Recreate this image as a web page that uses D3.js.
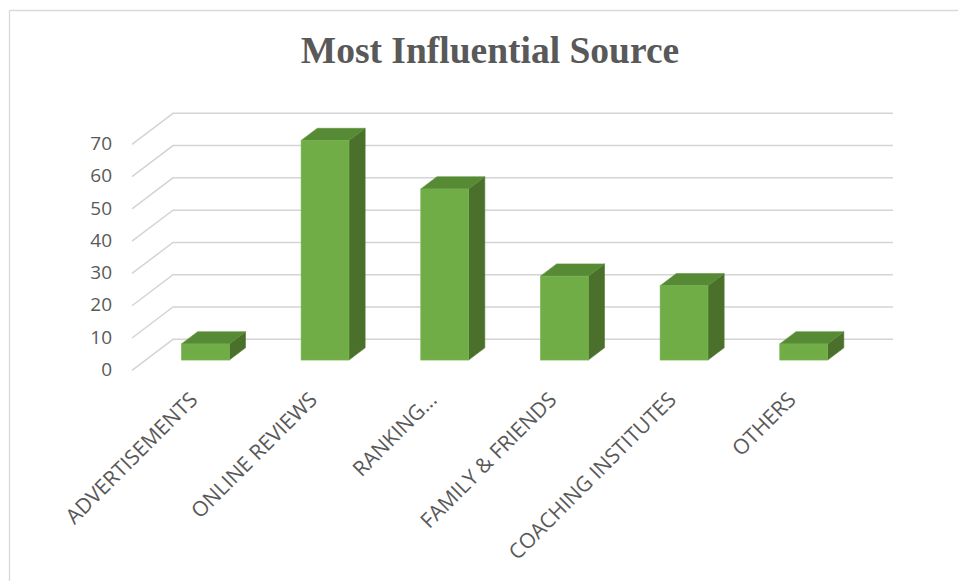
<!DOCTYPE html>
<html>
<head>
<meta charset="utf-8">
<script src="https://cdn.jsdelivr.net/npm/d3@7"></script>
<style>
  html, body { margin: 0; padding: 0; background: #fff; }
  svg { display: block; }
</style>
</head>
<body>
<svg id="chart" width="958" height="581"></svg>
<script>
const categories = ["ADVERTISEMENTS", "ONLINE REVIEWS", "RANKING...", "FAMILY & FRIENDS", "COACHING INSTITUTES", "OTHERS"];
const values = [5, 68, 53, 26, 23, 5];
const yTicks = [0, 10, 20, 30, 40, 50, 60, 70];
const title = "Most Influential Source";

const svg = d3.select("#chart");

// border (top and left only visible)
svg.append("line").attr("x1", 9.5).attr("y1", 10.5).attr("x2", 958).attr("y2", 10.5)
  .attr("stroke", "#d9d9d9").attr("stroke-width", 1.3);
svg.append("line").attr("x1", 9.5).attr("y1", 10.5).attr("x2", 9.5).attr("y2", 581)
  .attr("stroke", "#d9d9d9").attr("stroke-width", 1.3);

// title
svg.append("text")
  .attr("x", 490).attr("y", 63)
  .attr("text-anchor", "middle")
  .attr("font-family", "'Liberation Serif', 'Times New Roman', serif")
  .attr("font-weight", "bold")
  .attr("font-size", 37.5)
  .attr("fill", "#595959")
  .text(title);

// 3D oblique depth vector (front wall -> back wall)
const DX = 41, DY = -31;
const depthAt = d => [DX * d, DY * d];

const x = d3.scaleBand().domain(categories).range([132, 850]).paddingInner(0.6).paddingOuter(0.3);
const y = d3.scaleLinear().domain([0, 70]).range([370.3, 144.3]);

const backRight = 893;

// gridlines
const grid = svg.append("g");
yTicks.forEach(t => {
  const yf = y(t);
  grid.append("path")
    .attr("d", `M${x.range()[0]},${yf} L${x.range()[0] + DX},${yf + DY} L${backRight},${yf + DY}`)
    .attr("fill", "none").attr("stroke", "#d4d4d4").attr("stroke-width", 1.5);
});

// y axis labels
svg.append("g").selectAll("text").data(yTicks).join("text")
  .attr("x", 112)
  .attr("y", d => y(d) - 1)
  .attr("dy", "0.35em")
  .attr("text-anchor", "end")
  .attr("font-family", "'Open Sans', 'Noto Sans', sans-serif")
  .attr("font-size", 19)
  .attr("fill", "#595959")
  .text(d => d);

// bars
const d0 = 0.33, d1 = 0.725;
const bars = svg.append("g");
categories.forEach((c, i) => {
  const v = values[i];
  const [ox0, oy0] = depthAt(d0);
  const [ox1, oy1] = depthAt(d1);
  const xl = x(c) + ox0, xr = x(c) + x.bandwidth() + ox0;
  const yb = y(0) + oy0, yt = y(v) + oy0;
  const ddx = ox1 - ox0, ddy = oy1 - oy0;
  // side
  bars.append("path")
    .attr("d", `M${xr},${yb} L${xr + ddx},${yb + ddy} L${xr + ddx},${yt + ddy} L${xr},${yt} Z`)
    .attr("fill", "#4a702b").attr("stroke", "#4f7a2f").attr("stroke-width", 0.6);
  // top
  bars.append("path")
    .attr("d", `M${xl},${yt} L${xl + ddx},${yt + ddy} L${xr + ddx},${yt + ddy} L${xr},${yt} Z`)
    .attr("fill", "#568a35").attr("stroke", "#5e9339").attr("stroke-width", 0.6);
  // front
  bars.append("rect")
    .attr("x", xl).attr("y", yt).attr("width", x.bandwidth()).attr("height", yb - yt)
    .attr("fill", "#70ad47").attr("stroke", "#7ab653").attr("stroke-width", 0.6);
});

// category labels
svg.append("g").selectAll("text").data(categories).join("text")
  .attr("transform", d => `translate(${x(d) + x.bandwidth() / 2 + 7},401) rotate(-45)`)
  .attr("text-anchor", "end")
  .attr("font-family", "'Open Sans', 'Noto Sans', sans-serif")
  .attr("font-size", 21)
  .attr("fill", "#595959")
  .text(d => d);
</script>
</body>
</html>
